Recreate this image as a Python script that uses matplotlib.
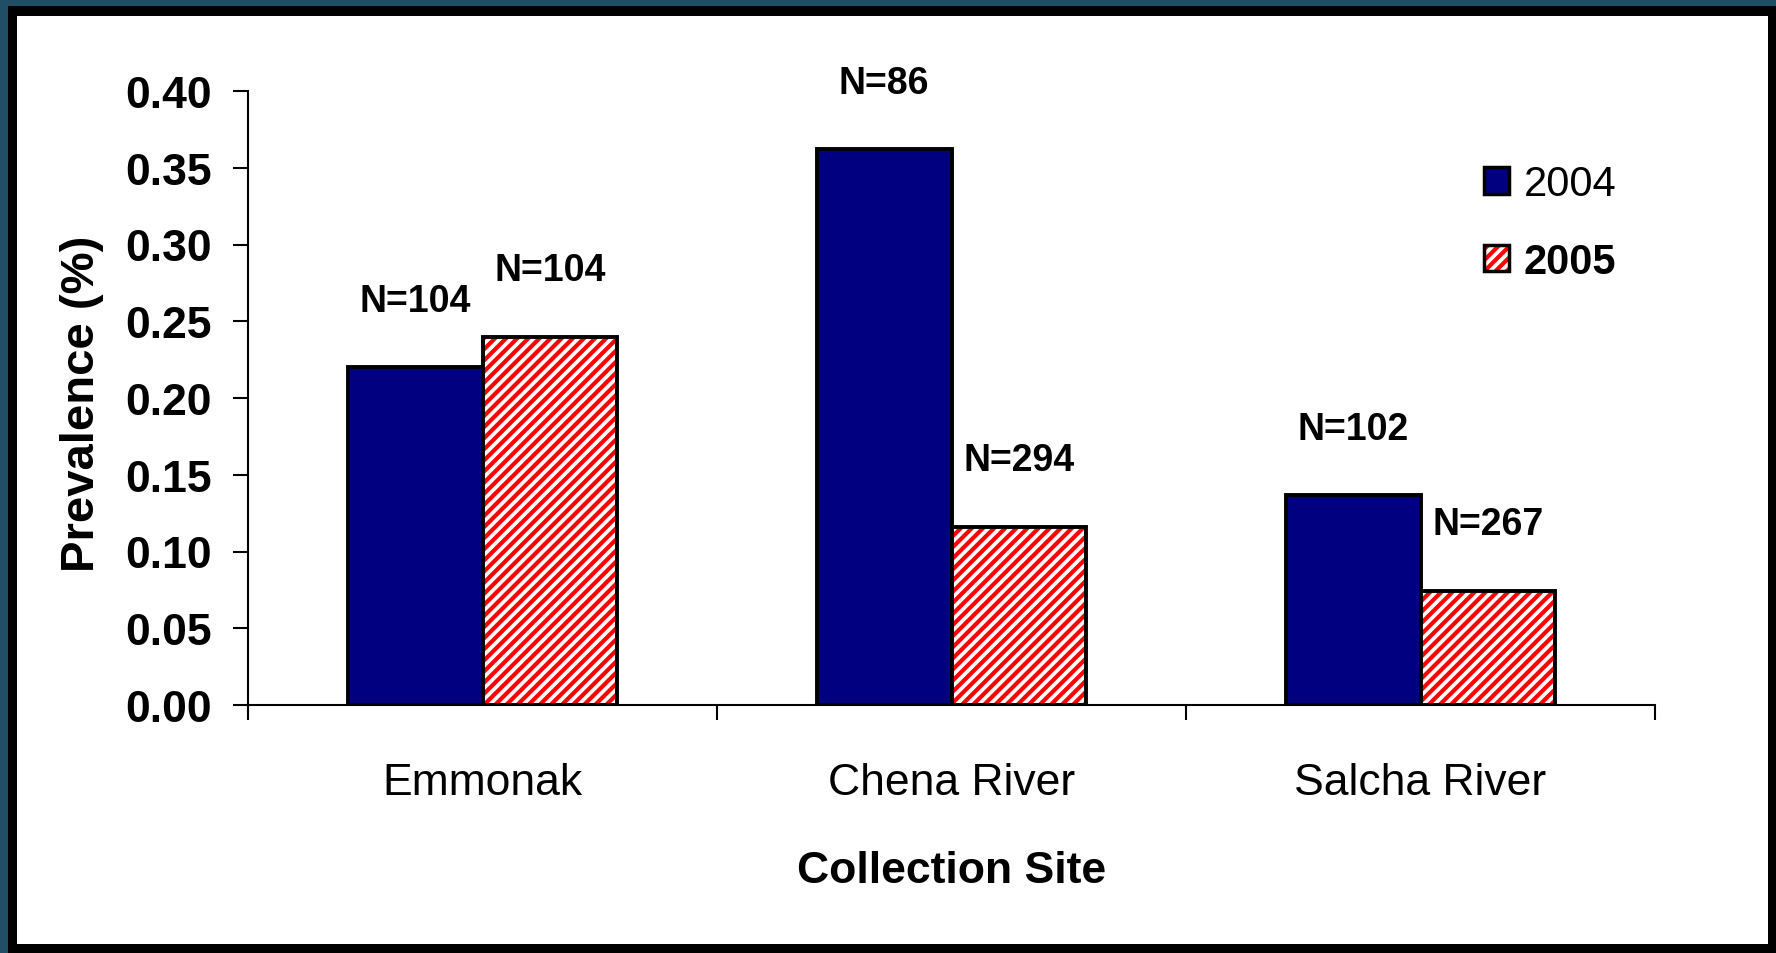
import matplotlib
matplotlib.use("Agg")
import matplotlib.pyplot as plt
from matplotlib.patches import Patch, Rectangle
from matplotlib.legend_handler import HandlerTuple
import numpy as np

plt.rcParams['font.family'] = ['Liberation Sans', 'DejaVu Sans']
plt.rcParams['hatch.linewidth'] = 3.0

# data
sites = ["Emmonak", "Chena River", "Salcha River"]
years = ["2004", "2005"]
prev_2004 = [0.220, 0.362, 0.1365]
prev_2005 = [0.240, 0.116, 0.0745]
n_2004 = ["N=104", "N=86", "N=102"]
n_2005 = ["N=104", "N=294", "N=267"]
y_ticks = [0.00, 0.05, 0.10, 0.15, 0.20, 0.25, 0.30, 0.35, 0.40]

W, H = 1776, 954
fig = plt.figure(figsize=(W / 100, H / 100), dpi=100)
fig.patch.set_facecolor('#1f4e66')

# black frame and white plot area
fig.patches.append(Rectangle((8 / W, 0), 1 - 8 / W, 1 - 7 / H, transform=fig.transFigure,
                             facecolor='black', edgecolor='none', zorder=-3))
fig.patches.append(Rectangle((17 / W, 9 / H), (1768 - 17) / W, (945 - 17) / H,
                             transform=fig.transFigure, facecolor='white',
                             edgecolor='none', zorder=-2))

ax = fig.add_axes([248 / W, 1 - 706 / H, (1655 - 248) / W, (706 - 92) / H])
ax.set_facecolor('none')

x = np.arange(len(sites)) + 0.5
w = 0.287
navy = '#000080'

ax.bar(x - w / 2, prev_2004, w, color=navy, edgecolor='black', linewidth=2.8, zorder=2)
ax.bar(x + w / 2, prev_2005, w, color='white', edgecolor='red', hatch='///', linewidth=0, zorder=2)
ax.bar(x + w / 2, prev_2005, w, fill=False, edgecolor='black', linewidth=2.8, zorder=3)

for xi, v, t in zip(x - w / 2, prev_2004, n_2004):
    ax.annotate(t, (xi, v), xytext=(0, 48), textcoords='offset points',
                ha='center', va='center', fontsize=27, fontweight='bold',
                annotation_clip=False)
for xi, v, t in zip(x + w / 2, prev_2005, n_2005):
    ax.annotate(t, (xi, v), xytext=(0, 48), textcoords='offset points',
                ha='center', va='center', fontsize=27, fontweight='bold',
                annotation_clip=False)

ax.set_xlim(0, 3)
ax.set_ylim(0, 0.40)
ax.set_yticks(y_ticks)
ax.set_yticklabels(["%.2f" % t for t in y_ticks])
ax.tick_params(axis='y', direction='out', length=11, width=1.5, pad=15, labelsize=32)
for lab in ax.get_yticklabels():
    lab.set_fontweight('bold')

ax.set_xticks([0, 1, 2, 3])
ax.set_xticklabels([])
ax.tick_params(axis='x', which='major', direction='out', length=11, width=1.5)
ax.set_xticks(x, minor=True)
ax.set_xticklabels(sites, minor=True)
ax.tick_params(axis='x', which='minor', length=0, pad=41, labelsize=32)

for s in ['top', 'right']:
    ax.spines[s].set_visible(False)
for s in ['left', 'bottom']:
    ax.spines[s].set_linewidth(1.5)

ax.set_xlabel("Collection Site", fontsize=32, fontweight='bold', labelpad=34)
fig.text(82 / W, 1 - 404 / H, "Prevalence (%)", rotation=90, ha='center', va='center',
         fontsize=34, fontweight='bold')

h04 = Patch(facecolor=navy, edgecolor='black', linewidth=2.5)
h05 = (Patch(facecolor='white', edgecolor='red', hatch='///', linewidth=0),
       Patch(fill=False, edgecolor='black', linewidth=2.5))
leg = fig.legend([h04, h05], years, handler_map={tuple: HandlerTuple(ndivide=1, pad=0)},
                 loc='upper left', bbox_to_anchor=(1484 / W, 1 - 165 / H),
                 frameon=False, fontsize=30, handlelength=0.6, handleheight=0.6,
                 handletextpad=0.35, labelspacing=0.9, borderpad=0, borderaxespad=0)
leg.get_texts()[1].set_fontweight('bold')

fig.savefig("out.png", dpi=100, facecolor=fig.get_facecolor())
